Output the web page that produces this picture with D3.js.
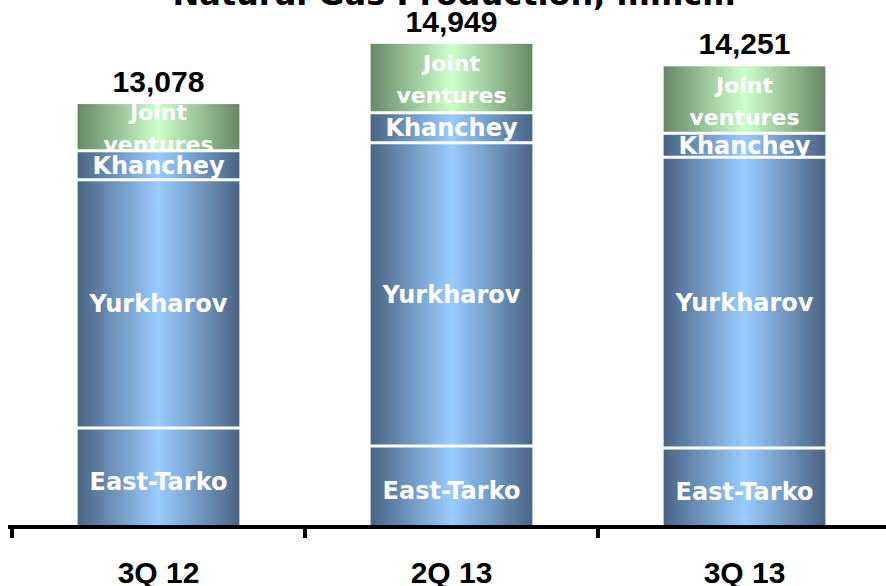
<!DOCTYPE html>
<html>
<head>
<meta charset="utf-8">
<script src="https://cdn.jsdelivr.net/npm/d3@7"></script>
<style>
  html, body { margin: 0; padding: 0; background: #fff; }
  svg { display: block; }
</style>
</head>
<body>
<svg id="chart" width="886" height="586"></svg>
<script>
const title = "Natural Gas Production, mmcm";
const categories = ["3Q 12", "2Q 13", "3Q 13"];
const eastTarko = [3015, 2455, 2393];
const yurkharov = [7708, 9417, 9030];
const khanchey = [901, 932, 746];
const jointVentures = [1454, 2145, 2082];
const totals = [13078, 14949, 14251];
const seriesNames = ["East-Tarko", "Yurkharov", "Khanchey", "Joint ventures"];
const seriesValues = [eastTarko, yurkharov, khanchey, jointVentures];

const svg = d3.select("#chart");
const baseY = 525;

const x = d3.scaleBand().domain(categories).range([12, 891]).paddingInner(0.448).paddingOuter(0.224);
const y = d3.scaleLinear().domain([0, 16000]).range([baseY, 10]);

const rows = categories.map((c, i) => {
  const r = { cat: c };
  seriesNames.forEach((s, j) => r[s] = seriesValues[j][i]);
  return r;
});
const stacked = d3.stack().keys(seriesNames)(rows);

const defs = svg.append("defs");
function grad(id, edge, mid) {
  const g = defs.append("linearGradient").attr("id", id).attr("x1", "0%").attr("x2", "100%").attr("y1", "0%").attr("y2", "0%");
  g.append("stop").attr("offset", "0%").attr("stop-color", edge);
  g.append("stop").attr("offset", "50%").attr("stop-color", mid);
  g.append("stop").attr("offset", "100%").attr("stop-color", edge);
}
grad("gBlue", "#4a6484", "#99ccff");
grad("gGreen", "#688766", "#ccffcc");

// Title (partially cut off at top)
svg.append("text").attr("x", 454).attr("y", 5).attr("text-anchor", "middle")
  .attr("font-family", "DejaVu Sans").attr("font-weight", "bold").attr("font-size", 32)
  .attr("fill", "#000").text(title);

const bars = svg.append("g");
stacked.forEach((layer, li) => {
  layer.forEach((d, ci) => {
    const x0 = x(categories[ci]);
    const w = x.bandwidth();
    const y0 = y(d[1]);
    const h = y(d[0]) - y(d[1]);
    const fill = li === 3 ? "url(#gGreen)" : "url(#gBlue)";
    bars.append("rect").attr("x", x0).attr("y", y0).attr("width", w).attr("height", h).attr("fill", fill);
    const cid = "clip" + li + "_" + ci;
    defs.append("clipPath").attr("id", cid).append("rect")
      .attr("x", x0).attr("y", y0).attr("width", w).attr("height", h + (li === 2 ? 2 : 0));
    const cx = x0 + w / 2;
    const cy = y0 + h / 2;
    const lg = svg.append("g").attr("clip-path", "url(#" + cid + ")");
    const t = lg.append("text").attr("text-anchor", "middle").attr("fill", "#fff")
      .attr("font-family", "DejaVu Sans").attr("font-weight", "bold");
    if (li === 3) {
      t.attr("font-size", 22);
      t.append("tspan").attr("x", cx).attr("y", cy - 7).text("Joint");
      t.append("tspan").attr("x", cx).attr("y", cy + 25).text("ventures");
    } else {
      t.attr("font-size", 24).attr("x", cx).attr("y", cy + 8.5 + (li === 0 ? 5 : 0)).text(seriesNames[li]);
    }
  });
});

// white separators between segments
stacked.forEach((layer, li) => {
  if (li === 0) return;
  layer.forEach((d, ci) => {
    bars.append("line").attr("x1", x(categories[ci]) - 1).attr("x2", x(categories[ci]) + x.bandwidth() + 1)
      .attr("y1", y(d[0])).attr("y2", y(d[0])).attr("stroke", "#fff").attr("stroke-width", 3);
  });
});

// totals
svg.append("g").selectAll("text").data(categories).join("text")
  .attr("x", c => x(c) + x.bandwidth() / 2)
  .attr("y", (c, i) => y(totals[i]) - 12)
  .attr("text-anchor", "middle")
  .attr("font-family", "Liberation Sans").attr("font-weight", "bold").attr("font-size", 30)
  .attr("fill", "#000")
  .text((c, i) => d3.format(",")(totals[i]));

// axis
const half = (x.step() - x.bandwidth()) / 2;
const boundaries = categories.map(c => x(c) - half);
svg.append("line").attr("x1", 8).attr("x2", 886).attr("y1", 527).attr("y2", 527)
  .attr("stroke", "#000").attr("stroke-width", 4);
svg.append("g").selectAll("line").data(boundaries).join("line")
  .attr("x1", d => d).attr("x2", d => d).attr("y1", 525).attr("y2", 538)
  .attr("stroke", "#000").attr("stroke-width", 4);

svg.append("g").selectAll("text").data(categories).join("text")
  .attr("x", c => x(c) + x.bandwidth() / 2)
  .attr("y", 583)
  .attr("text-anchor", "middle")
  .attr("font-family", "Liberation Sans").attr("font-weight", "bold").attr("font-size", 30)
  .attr("fill", "#000").text(c => c);
</script>
</body>
</html>
